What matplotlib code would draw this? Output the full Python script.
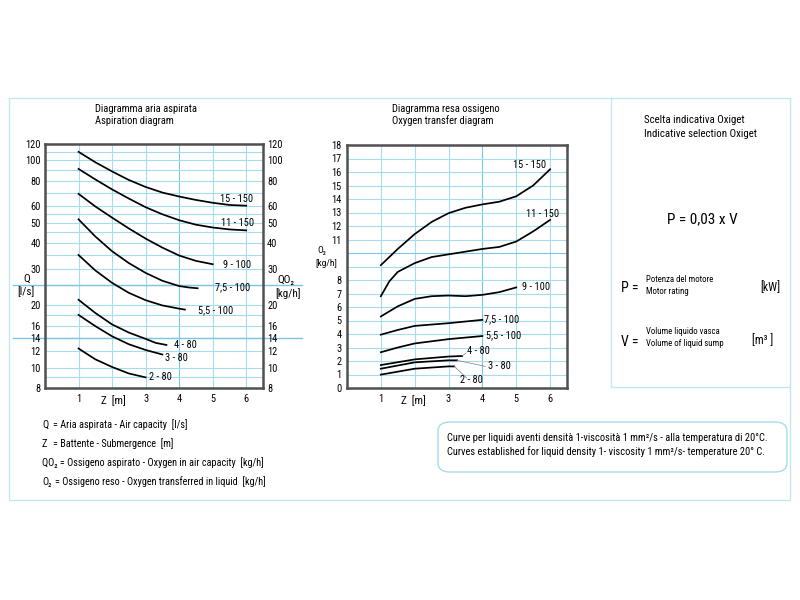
import matplotlib
matplotlib.use("Agg")
import matplotlib.pyplot as plt
from matplotlib.patches import FancyBboxPatch, Rectangle
from matplotlib.ticker import FixedLocator, NullLocator

plt.rcParams["font.family"] = ["Roboto Condensed", "DejaVu Sans"]

# ---- data: aspiration diagram (Q [l/s] vs Z [m]) ----
asp_labels = ["15 - 150", "11 - 150", "9 - 100", "7,5 - 100", "5,5 - 100", "4 - 80", "3 - 80", "2 - 80"]
asp_z = [
    [1, 1.5, 2, 2.5, 3, 3.5, 4, 4.5, 5, 5.5, 6],
    [1, 1.5, 2, 2.5, 3, 3.5, 4, 4.5, 5, 5.5, 6],
    [1, 1.5, 2, 2.5, 3, 3.5, 4, 4.5, 5],
    [1, 1.5, 2, 2.5, 3, 3.5, 4, 4.3, 4.55],
    [1, 1.5, 2, 2.5, 3, 3.5, 4, 4.17],
    [1, 1.5, 2, 2.5, 3, 3.3, 3.62],
    [1, 1.5, 2, 2.5, 3, 3.5],
    [1, 1.5, 2, 2.5, 3],
]
asp_q = [
    [110, 98, 88.5, 80.5, 74.5, 70, 67, 64.5, 62.5, 61, 60.5],
    [91, 81, 72.5, 65.5, 59.5, 55, 51.5, 49, 47.5, 46.5, 46],
    [69, 60, 53, 47, 42, 38, 34.8, 32.8, 31.6],
    [52, 43, 36.5, 32, 28.7, 26.3, 24.8, 24.4, 24.2],
    [35, 29.5, 25.7, 23, 21.2, 20, 19.3, 19.1],
    [21.3, 18.4, 16.2, 14.8, 13.8, 13.2, 12.9],
    [18, 15.9, 14.2, 13.0, 12.2, 11.6],
    [12.4, 11.0, 10.1, 9.4, 9.0],
]
asp_label_pos = [(5.7, 65), (5.75, 50), (5.73, 31.4), (5.58, 24.5), (5.1, 19),
                 (4.2, 12.9), (3.92, 11.1), (3.43, 9.0)]
asp_ticks = [8, 10, 12, 14, 16, 20, 30, 40, 50, 60, 80, 100, 120]
asp_grid = [9, 10, 12, 14, 16, 18, 20, 25, 30, 35, 40, 45, 50, 55, 60, 70, 80, 90, 100, 110]

# ---- data: oxygen transfer diagram (O2 [kg/h] vs Z [m]) ----
oxy_labels = asp_labels
oxy_z = [
    [1, 1.5, 2, 2.5, 3, 3.5, 4, 4.5, 5, 5.5, 6],
    [1, 1.25, 1.5, 2, 2.5, 3, 3.5, 4, 4.5, 5, 5.5, 6],
    [1, 1.5, 2, 2.5, 3, 3.5, 4, 4.5, 5],
    [1, 1.5, 2, 3, 4],
    [1, 1.5, 2, 3, 4],
    [1, 2, 3, 3.4],
    [1, 2, 3, 3.25],
    [1, 2, 3, 3.17],
]
oxy_o2 = [
    [9.1, 10.3, 11.4, 12.3, 12.95, 13.35, 13.6, 13.8, 14.2, 15.0, 16.2],
    [6.8, 7.9, 8.6, 9.25, 9.7, 9.9, 10.1, 10.3, 10.45, 10.85, 11.6, 12.45],
    [5.3, 6.05, 6.6, 6.8, 6.85, 6.8, 6.9, 7.1, 7.45],
    [3.95, 4.3, 4.6, 4.8, 5.05],
    [2.65, 3.0, 3.3, 3.62, 3.85],
    [1.7, 2.12, 2.33, 2.37],
    [1.43, 1.9, 2.05, 2.05],
    [0.99, 1.43, 1.6, 1.6],
]
oxy_label_pos = [(5.38, 16.54), (5.77, 12.91), (5.6, 7.46), (4.58, 5.11), (4.63, 3.9),
                 (3.89, 2.72), (4.49, 1.6), (3.69, 0.62)]
oxy_ticks = [0, 1, 2, 3, 4, 5, 6, 7, 8, 11, 12, 13, 14, 15, 16, 17, 18]

z_ticks = [1, 2, 3, 4, 5, 6]
z_ticklabels = ["1", "", "3", "4", "5", "6"]   # "Z [m]" sits where the 2 would be

GRID = "#a6dcee"
GRID2 = "#78c8e4"
SPINE = "#505050"
FRAME = "#c4e8f2"

fig = plt.figure(figsize=(8, 6), dpi=100)


def T(x, y, s, **kw):
    # place text at pixel position of the 800x600 picture
    kw.setdefault("fontsize", 7)
    kw.setdefault("va", "center")
    fig.text(x / 800, 1 - y / 600, s, **kw)


def style(ax):
    for sp in ax.spines.values():
        sp.set_color(SPINE)
        sp.set_linewidth(1.8)
    ax.tick_params(length=0, labelsize=7.5, pad=4)
    ax.set_xlim(0, 6.5)
    ax.set_xticks(z_ticks)
    ax.set_xticklabels(z_ticklabels)
    for z in z_ticks:
        ax.axvline(z, color=GRID2 if z == 4 else GRID, lw=0.8, zorder=1)


# outer frame
fig.add_artist(Rectangle((9 / 800, 1 - 500 / 600), 781 / 800, 402 / 600, transform=fig.transFigure,
                         fill=False, ec=FRAME, lw=1.0))
fig.add_artist(plt.Line2D([611 / 800, 611 / 800], [1 - 98 / 600, 1 - 387 / 600], color=FRAME, lw=1.0))
fig.add_artist(plt.Line2D([611 / 800, 790 / 800], [1 - 387 / 600, 1 - 387 / 600], color=FRAME, lw=1.0))

# ---- left chart ----
ax1 = fig.add_axes([45 / 800, 1 - 388 / 600, 218 / 800, 244 / 600])
ax1.set_yscale("log")
ax1.set_ylim(8, 120)
style(ax1)
ax1.yaxis.set_major_locator(FixedLocator(asp_ticks))
ax1.yaxis.set_minor_locator(NullLocator())
ax1.set_yticklabels([str(v) for v in asp_ticks])
ax1.tick_params(axis="y", labelright=True, pad=3)
for v in asp_grid:
    ax1.axhline(v, color=GRID, lw=0.8, zorder=1)
for v in [14, 25]:
    ax1.axhline(v, xmin=-0.147, xmax=1.18, color=GRID2, lw=1.0, clip_on=False, zorder=1)
for z, q in zip(asp_z, asp_q):
    ax1.plot(z, q, color="black", lw=1.25, zorder=3)
for lab, (x, y) in zip(asp_labels, asp_label_pos):
    ax1.text(x, y, lab, fontsize=7.5, ha="center", va="center", zorder=4)

# ---- right chart ----
ax2 = fig.add_axes([347 / 800, 1 - 388 / 600, 220 / 800, 243 / 600])
ax2.set_ylim(0, 18)
style(ax2)
ax2.set_yticks(oxy_ticks)
for v in range(1, 18):
    ax2.axhline(v, color=GRID2 if v == 10 else GRID, lw=0.8, zorder=1)
for z, o in zip(oxy_z, oxy_o2):
    ax2.plot(z, o, color="black", lw=1.25, zorder=3)
for lab, (x, y) in zip(oxy_labels, oxy_label_pos):
    ax2.text(x, y, lab, fontsize=7.5, ha="center", va="center", zorder=4)
# leader lines to the small curves
for (x0, y0), (x1, y1) in [((3.4, 2.37), (3.52, 2.6)), ((3.25, 2.05), (4.09, 1.6)),
                           ((3.17, 1.6), (3.54, 0.74))]:
    ax2.plot([x0, x1], [y0, y1], color="#808080", lw=0.5, zorder=3)

# titles and axis names
T(95, 109, "Diagramma aria aspirata", fontsize=7.6)
T(95, 121, "Aspiration diagram", fontsize=7.6)
T(392, 109, "Diagramma resa ossigeno", fontsize=7.6)
T(392, 121, "Oxygen transfer diagram", fontsize=7.6)
T(27, 279, "Q", fontsize=8, ha="center")
T(26, 292, "[l/s]", fontsize=8, ha="center")
T(286, 280, "QO₂", fontsize=8, ha="center")
T(288, 294, "[kg/h]", fontsize=8, ha="center")
T(322, 250, "O₂", fontsize=6.8, ha="center")
T(326, 263, "[kg/h]", fontsize=6.8, ha="center")
T(113, 401, "Z  [m]", fontsize=8, ha="center")
T(413, 401, "Z  [m]", fontsize=8, ha="center")

# selection panel
T(644, 120, "Scelta indicativa Oxiget", fontsize=7.8)
T(644, 134, "Indicative selection Oxiget", fontsize=7.8)
T(702, 219, "P = 0,03 x V", fontsize=11, ha="center")
T(621, 288, "P =", fontsize=10)
T(646, 279, "Potenza del motore", fontsize=6.3)
T(646, 291, "Motor rating", fontsize=6.3)
T(760, 288, "[kW]", fontsize=8.5)
T(621, 342, "V =", fontsize=10)
T(646, 331, "Volume liquido vasca", fontsize=6.3)
T(646, 343, "Volume of liquid sump", fontsize=6.3)
T(752, 341, "[m³ ]", fontsize=8.5)

# legend of symbols
T(42, 425, "Q", fontsize=7.3)
T(53, 425, "= Aria aspirata - Air capacity  [l/s]", fontsize=7.3)
T(42, 444, "Z", fontsize=7.3)
T(53, 444, "= Battente - Submergence  [m]", fontsize=7.3)
T(42, 463, "QO₂ = Ossigeno aspirato - Oxygen in air capacity  [kg/h]", fontsize=7.3)
T(42, 482, "O₂", fontsize=7.3)
T(55, 482, "= Ossigeno reso - Oxygen transferred in liquid  [kg/h]", fontsize=7.3)

# note box
fig.add_artist(FancyBboxPatch((438 / 800, 1 - 472 / 600), 349 / 800, 50 / 600,
                              boxstyle="round,pad=0,rounding_size=0.015", transform=fig.transFigure,
                              fill=False, ec="#a6dcee", lw=1.0))
T(447, 438, "Curve per liquidi aventi densità 1-viscosità 1 mm²/s - alla temperatura di 20°C.", fontsize=7.5)
T(447, 452, "Curves established for liquid density 1- viscosity 1 mm²/s- temperature 20° C.", fontsize=7.5)

fig.savefig("out.png", dpi=100)
